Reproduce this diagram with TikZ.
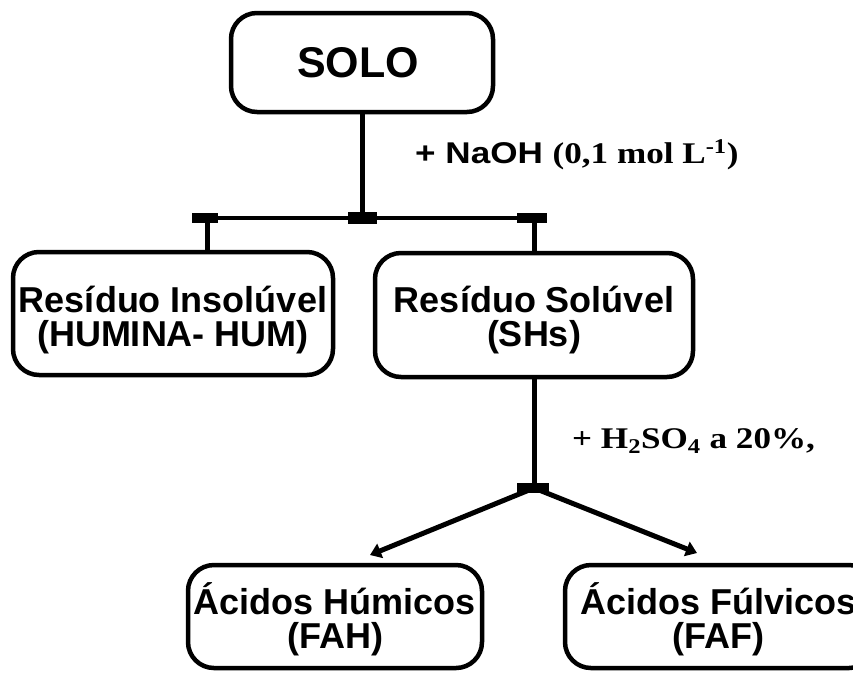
\documentclass[tikz,border=0pt]{standalone}
\usepackage{graphicx}
\usepackage{fontspec}
\setmainfont{Liberation Serif}
\setsansfont{Liberation Sans}
\usetikzlibrary{arrows.meta}
\tikzset{
  boxnode/.style={draw=black, line width=4.5pt, rounded corners=26pt, inner sep=0pt},
  boxtext/.style={inner sep=0pt, align=center, font=\sffamily\bfseries\fontsize{36}{34}\selectfont},
  link/.style={line width=5pt},
  barline/.style={line width=3.5pt},
  arrowlink/.style={line width=5pt, -{Triangle[width=15pt,length=11pt]}},
  lbl/.style={inner sep=0pt, anchor=base west, font=\bfseries\fontsize{30}{30}\selectfont}
}
\begin{document}
\begin{tikzpicture}[x=1pt,y=-1pt]
\useasboundingbox (0,0) rectangle (853,673);
\clip (0,0) rectangle (853,673);
\fill[white] (0,0) rectangle (853,673);

% boxes
\node[boxnode, minimum width=262pt, minimum height=99pt] (solo) at (362,62.5) {};
\node[boxtext, font=\sffamily\bfseries\fontsize{43}{43}\selectfont] (soloT) at ([xshift=-4pt]solo.center) {SOLO};
\node[boxnode, minimum width=320pt, minimum height=123pt] (ins) at (173,313.5) {};
\node[boxtext] (insT) at ([yshift=-7pt]ins.center) {Resíduo Insolúvel\\(HUMINA- HUM)};
\node[boxnode, minimum width=318pt, minimum height=124pt] (sol) at (534,315) {};
\node[boxtext] (solT) at ([yshift=-5pt]sol.center) {Resíduo Solúvel\\(SHs)};
\node[boxnode, minimum width=294pt, minimum height=103pt] (hum) at (335,616.5) {};
\node[boxtext] (humT) at ([yshift=-3pt]hum.center) {Ácidos Húmicos\\(FAH)};
\node[boxnode, minimum width=310pt, minimum height=103pt] (ful) at (720,616.5) {};
\node[boxtext, anchor=west] (fulT) at (580,619.5) {Ácidos Fúlvicos\\(FAF)};

% labels
\node[lbl] (naoh) at (415,163) {\scalebox{1.17}[1]{\sffamily + NaOH \rmfamily(0,1 mol L\textsuperscript{-1})}};
\node[lbl] (acid) at (572,448) {\scalebox{1.17}[1]{+ H\textsubscript{2}SO\textsubscript{4} a 20\%,}};

% top split
\coordinate (barL) at (192,218);
\coordinate (barR) at (547,218);
\coordinate (dropL) at (207,218);
\coordinate (dropR) at (534,218);
\draw[link] (solo.south) -- (solo.south |- barL);
\draw[barline] (barL) -- (barR);
\fill (192,213) rectangle (218,223);
\fill (348,212) rectangle (377,224);
\fill (517,213) rectangle (547,223);
\draw[link] (dropL) -- (dropL |- ins.north);
\draw[link] (dropR) -- (sol.north);

% bottom split
\coordinate (junc) at (534,488);
\coordinate (tipL) at (370,555);
\coordinate (tipR) at (697,553);
\draw[link] (sol.south) -- (junc);
\fill (517,483) rectangle (549,493);
\draw[arrowlink] (junc) -- (tipL);
\draw[arrowlink] (junc) -- (tipR);
\end{tikzpicture}
\end{document}
